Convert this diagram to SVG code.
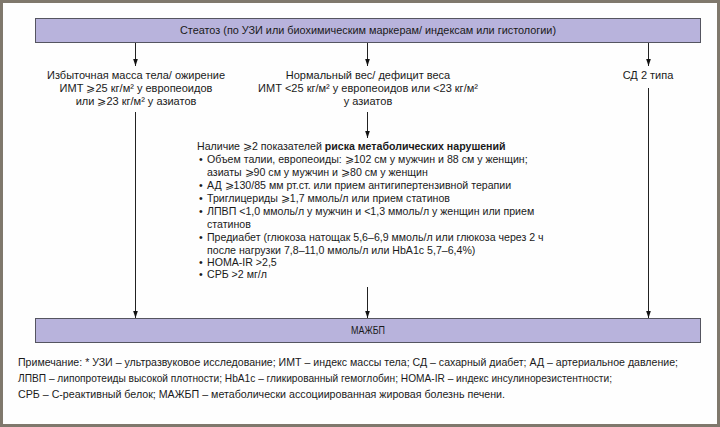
<svg xmlns="http://www.w3.org/2000/svg" width="720" height="427" viewBox="0 0 720 427">
<defs>
<marker id="ah" markerWidth="7" markerHeight="10" refX="9" refY="3" orient="auto" markerUnits="userSpaceOnUse" viewBox="0 0 9 6">
<path d="M0,0 L9,3 L0,6 Z" fill="#111"/>
</marker>
<style>
.frame{fill:#fefefe;stroke:#7f786c;stroke-width:3}
.box{fill:#b8b3dc;stroke:#555560;stroke-width:1}
.t{font-family:"Liberation Sans",Arial,sans-serif;font-size:11px;fill:#1a1a1a}
.l{font-size:10.6px}
.c{text-anchor:middle}
.b{font-weight:bold}
.edge{stroke:#222;stroke-width:1;fill:none;marker-end:url(#ah)}
</style>
</defs>
<rect class="frame" x="1.5" y="1.5" width="717" height="424"/>

<g id="steatoz">
<rect class="box" x="35.5" y="18.5" width="665" height="24"/>
<text class="t" x="180" y="34" textLength="376" lengthAdjust="spacingAndGlyphs">Стеатоз (по УЗИ или биохимическим маркерам/ индексам или гистологии)</text>
</g>

<g id="obesity">
<text class="t c" x="136" y="79">Избыточная масса тела/ ожирение</text>
<text class="t c" x="136" y="92">ИМТ ⩾25 кг/м² у европеоидов</text>
<text class="t c" x="136" y="105">или ⩾23 кг/м² у азиатов</text>
</g>

<g id="normal">
<text class="t c" x="368" y="79">Нормальный вес/ дефицит веса</text>
<text class="t c" x="368" y="92">ИМТ &lt;25 кг/м² у европеоидов или &lt;23 кг/м²</text>
<text class="t c" x="368" y="105">у азиатов</text>
</g>

<g id="diabetes">
<text class="t c" x="648" y="79">СД 2 типа</text>
</g>

<g id="risk">
<text class="t l" x="197" y="150">Наличие ⩾2 показателей <tspan class="b">риска метаболических нарушений</tspan></text>
<text class="t l" x="199" y="163">•</text>
<text class="t l" x="207" y="163">Объем талии, европеоиды: ⩾102 см у мужчин и 88 см у женщин;</text>
<text class="t l" x="207" y="176">азиаты ⩾90 см у мужчин и ⩾80 см у женщин</text>
<text class="t l" x="199" y="189">•</text>
<text class="t l" x="207" y="189">АД ⩾130/85 мм рт.ст. или прием антигипертензивной терапии</text>
<text class="t l" x="199" y="202">•</text>
<text class="t l" x="207" y="202">Триглицериды ⩾1,7 ммоль/л или прием статинов</text>
<text class="t l" x="199" y="215">•</text>
<text class="t l" x="207" y="215">ЛПВП &lt;1,0 ммоль/л у мужчин и &lt;1,3 ммоль/л у женщин или прием</text>
<text class="t l" x="207" y="228">статинов</text>
<text class="t l" x="199" y="241">•</text>
<text class="t l" x="207" y="241">Предиабет (глюкоза натощак 5,6–6,9 ммоль/л или глюкоза через 2 ч</text>
<text class="t l" x="207" y="254">после нагрузки 7,8–11,0 ммоль/л или HbA1c 5,7–6,4%)</text>
<text class="t l" x="199" y="266">•</text>
<text class="t l" x="207" y="266">HOMA-IR &gt;2,5</text>
<text class="t l" x="199" y="278">•</text>
<text class="t l" x="207" y="278">СРБ &gt;2 мг/л</text>
</g>

<g id="mazhbp">
<rect class="box" x="35.5" y="318.5" width="665" height="24"/>
<text class="t c" x="368" y="334" textLength="34" lengthAdjust="spacingAndGlyphs">МАЖБП</text>
</g>

<g id="connectors">
<line class="edge" x1="135.5" y1="43" x2="135.5" y2="66"/>
<line class="edge" x1="367.5" y1="43" x2="367.5" y2="66"/>
<line class="edge" x1="648.5" y1="43" x2="648.5" y2="66"/>
<line class="edge" x1="135.5" y1="112" x2="135.5" y2="318"/>
<line class="edge" x1="367.5" y1="112" x2="367.5" y2="138"/>
<line class="edge" x1="367.5" y1="287" x2="367.5" y2="318"/>
<line class="edge" x1="648.5" y1="88" x2="648.5" y2="318"/>
</g>

<g id="note">
<text class="t" x="18" y="366" textLength="660" lengthAdjust="spacingAndGlyphs">Примечание: * УЗИ – ультразвуковое исследование; ИМТ – индекс массы тела; СД – сахарный диабет; АД – артериальное давление;</text>
<text class="t" x="18" y="382" textLength="594" lengthAdjust="spacingAndGlyphs">ЛПВП – липопротеиды высокой плотности; HbA1c – гликированный гемоглобин; HOMA-IR – индекс инсулинорезистентности;</text>
<text class="t" x="18" y="398" textLength="487" lengthAdjust="spacingAndGlyphs">СРБ – С-реактивный белок; МАЖБП – метаболически ассоциированная жировая болезнь печени.</text>
</g>
</svg>
